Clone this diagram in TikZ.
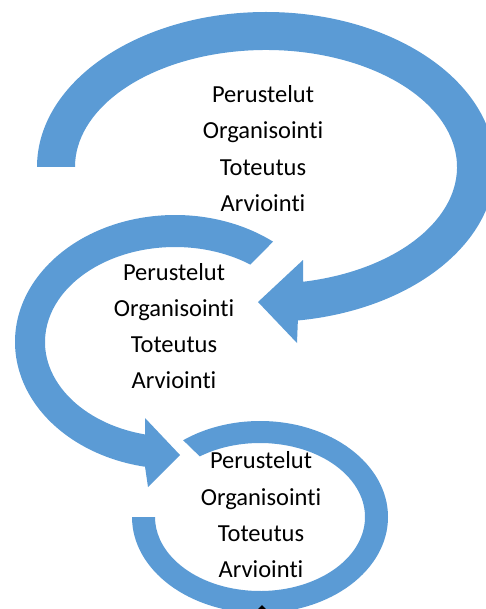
\documentclass[tikz,border=0pt]{standalone}
\usepackage{fontspec}
\setmainfont{Carlito}[Ligatures={NoCommon}]
\usetikzlibrary{calc}
\definecolor{arrowblue}{RGB}{91,155,213}
\tikzset{
  band/.style={fill=arrowblue, draw=none},
  lbl/.style={anchor=base, inner sep=0pt, font=\fontsize{24.5}{29}\selectfont, text=black}
}
\begin{document}
\begin{tikzpicture}[x=1pt, y=-1pt]
\useasboundingbox (0,0) rectangle (485,609);
% centres
\coordinate (tc) at (266,167);
\coordinate (mc) at (175,342);
\coordinate (bc) at (260,517);
% top arrow
\fill[band] ($(tc)+(180:229 and 155)$) arc[start angle=180, end angle=442, x radius=229, y radius=155]
  -- (297,343) -- (258,302) -- (303,260)
  -- ($(tc)+(438.8:191 and 117)$) arc[start angle=438.8, end angle=180, x radius=191, y radius=117] -- cycle;
% middle arrow
\fill[band] ($(mc)+(-52.2:160 and 127)$) arc[start angle=-52.2, end angle=-259.2, x radius=160, y radius=127]
  -- (148,487) -- (180,455) -- (145,418)
  -- ($(mc)+(-256.66:130 and 95)$) arc[start angle=-256.66, end angle=-54.6, x radius=130, y radius=95] -- cycle;
% bottom ring
\fill[band] ($(bc)+(180:128 and 96)$) arc[start angle=180, end angle=-126.9, x radius=128, y radius=96]
  -- ($(bc)+(-125:105 and 74)$) arc[start angle=-125, end angle=180, x radius=105, y radius=74] -- cycle;
% small black mark at bottom edge
\fill[black] (258,609) -- (262,605) -- (266,609) -- cycle;
% texts
\node[lbl] (p1) at (263,103) {Perustelut};
\node[lbl] (o1) at (263,139) {Organisointi};
\node[lbl] (t1) at (263,176) {Toteutus};
\node[lbl] (a1) at (263,212) {Arviointi};
\node[lbl] (p2) at (174,280) {Perustelut};
\node[lbl] (o2) at (174,316) {Organisointi};
\node[lbl] (t2) at (174,352) {Toteutus};
\node[lbl] (a2) at (174,388) {Arviointi};
\node[lbl] (p3) at (261,468) {Perustelut};
\node[lbl] (o3) at (261,505) {Organisointi};
\node[lbl] (t3) at (261,541) {Toteutus};
\node[lbl] (a3) at (261,577) {Arviointi};
\end{tikzpicture}
\end{document}
